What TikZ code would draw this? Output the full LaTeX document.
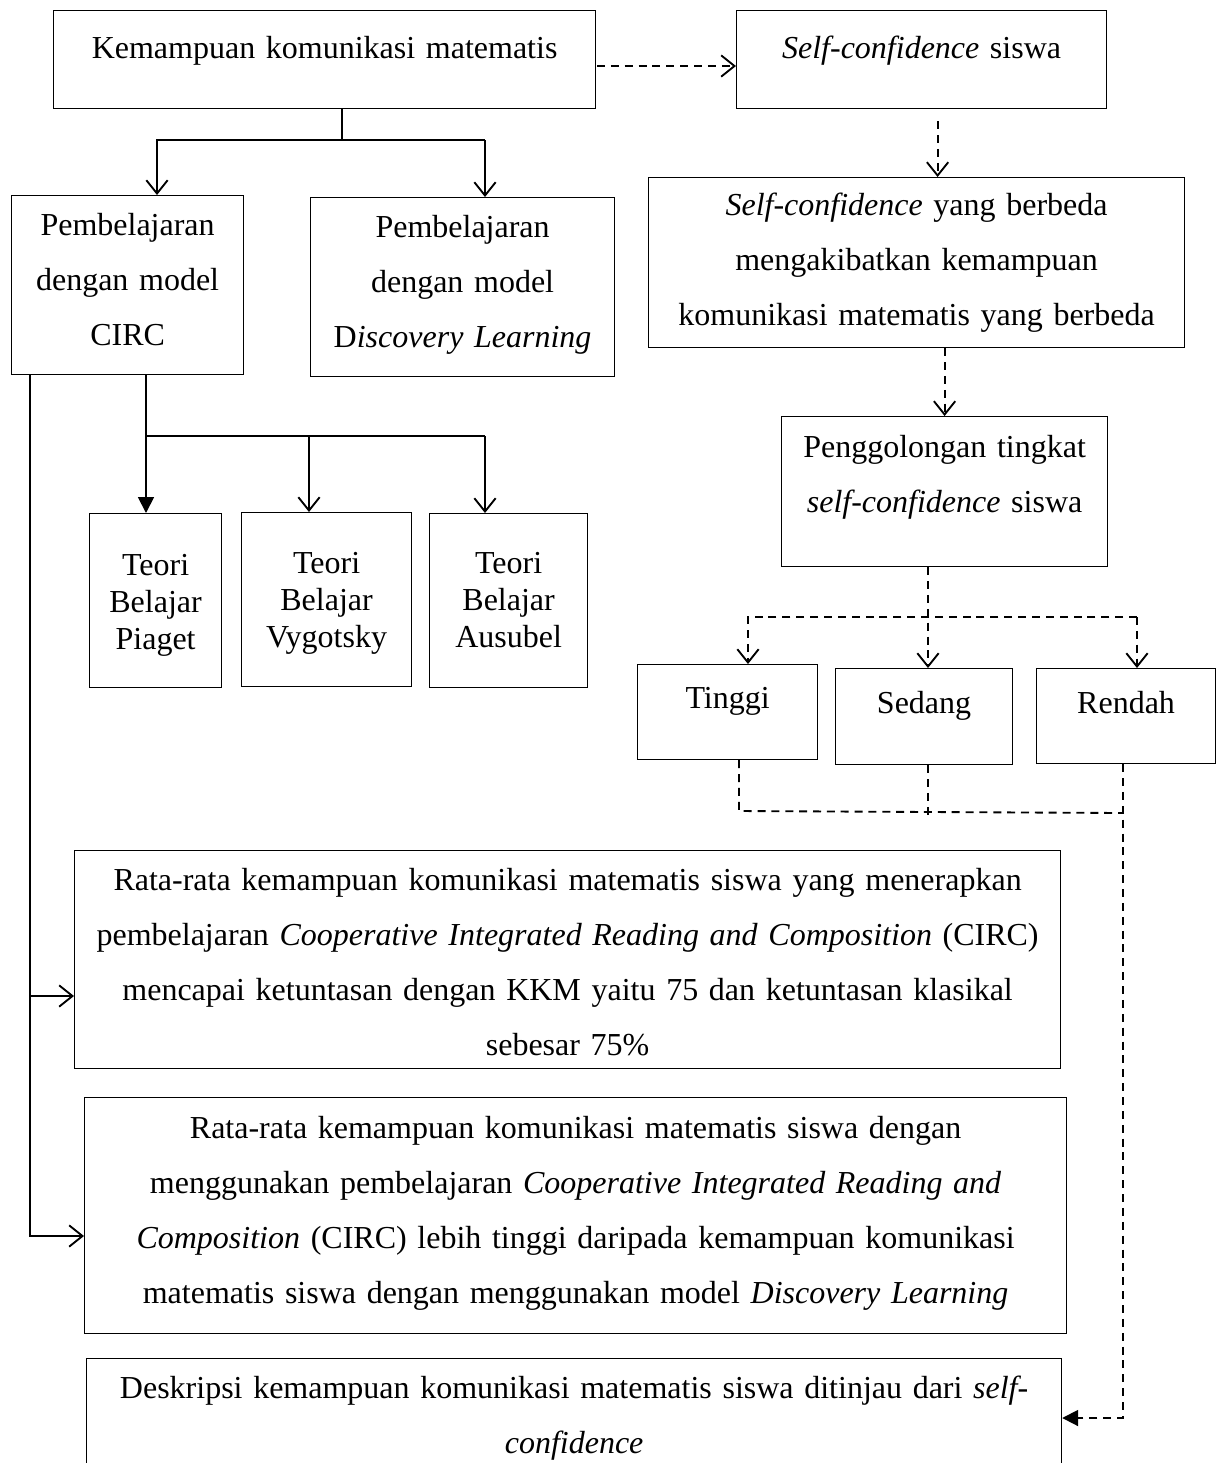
\documentclass[tikz,border=0pt]{standalone}
\usepackage{fontspec}
\setmainfont{Liberation Serif}
\usetikzlibrary{arrows.meta}
\tikzset{box/.style={draw,line width=0.45pt,inner sep=0pt,align=center,anchor=north west,font=\fontsize{12}{20.6}\selectfont}}
\tikzset{teori/.style={box,font=\fontsize{12}{13.8}\selectfont}}
\tikzset{conn/.style={line width=0.7pt}}
\tikzset{dconn/.style={line width=0.7pt,dash pattern=on 3pt off 2.2pt}}

\begin{document}
\begin{tikzpicture}[x=0.375pt,y=-0.375pt,>={Straight Barb[length=5pt,width=8pt]}]
    \useasboundingbox (0,0) rectangle (1216,1463);

    % boxes
    \node[box,text width=203.25pt,text height=18pt,text depth=18.75pt] (km) at (53,10) {Kemampuan komunikasi matematis};
    \node[box,text width=138.75pt,text height=18pt,text depth=18.75pt] (sc) at (736,10) {\textit{Self-confidence} siswa};
    \node[box,text width=87pt,text height=15pt,text depth=52.125pt] (pcirc) at (11,195) {Pembelajaran\\dengan model\\CIRC};
    \node[box,text width=114pt,text height=15pt,text depth=52.125pt] (pdl) at (310,197) {Pembelajaran\\dengan model\\D\textit{iscovery Learning}};
    \node[box,text width=201pt,text height=14.25pt,text depth=49.5pt] (scb) at (648,177) {\textit{Self-confidence} yang berbeda\\mengakibatkan kemampuan\\komunikasi matematis yang berbeda};
    \node[box,text width=122.25pt,text height=15.375pt,text depth=40.875pt] (pt) at (781,416) {Penggolongan tingkat\\\textit{self-confidence} siswa};
    \node[teori,text width=49.5pt,text height=23.25pt,text depth=42pt] (piaget) at (89,513) {Teori\\Belajar\\Piaget};
    \node[teori,text width=63.75pt,text height=22.875pt,text depth=42.375pt] (vygotsky) at (241,512) {Teori\\Belajar\\Vygotsky};
    \node[teori,text width=59.25pt,text height=22.5pt,text depth=42.75pt] (ausubel) at (429,513) {Teori\\Belajar\\Ausubel};
    \node[box,text width=67.5pt,text height=16.5pt,text depth=19.125pt] (tinggi) at (637,664) {Tinggi};
    \node[box,text width=66.375pt,text height=16.875pt,text depth=19.125pt] (sedang) at (835,668) {Sedang};
    \node[box,text width=67.125pt,text height=16.875pt,text depth=18.75pt] (rendah) at (1036,668) {Rendah};
    \node[box,text width=369.75pt,text height=15pt,text depth=66.75pt] (r1) at (74,850) {Rata-rata kemampuan komunikasi matematis siswa yang menerapkan\\pembelajaran \textit{Cooperative Integrated Reading and Composition} (CIRC)\\mencapai ketuntasan dengan KKM yaitu 75 dan ketuntasan klasikal\\sebesar 75\%};
    \node[box,text width=368.25pt,text height=15.375pt,text depth=73.125pt] (r2) at (84,1097) {Rata-rata kemampuan komunikasi matematis siswa dengan\\menggunakan pembelajaran \textit{Cooperative Integrated Reading and}\\\textit{Composition} (CIRC) lebih tinggi daripada kemampuan komunikasi\\matematis siswa dengan menggunakan model \textit{Discovery Learning}};
    \node[box,text width=365.625pt,text height=15pt,text depth=30.75pt] (d) at (86,1358) {Deskripsi kemampuan komunikasi matematis siswa ditinjau dari \textit{self-}\\\textit{confidence}};

    % solid connectors
    \coordinate (kmj) at (342,140);
    \coordinate (kml) at (157,140);
    \coordinate (kmr) at (485,140);
    \draw[conn] (kmj |- km.south) -- (kmj);
    \draw[conn,->] (kmr) -- (kml) -- (kml |- pcirc.north);
    \draw[conn,->] (kmr) -- (kmr |- pdl.north);

    \coordinate (pj) at (146,436);
    \coordinate (pv) at (309,436);
    \coordinate (pr) at (485,436);
    \draw[conn,-{Triangle[length=6pt,width=6pt]}] (pj |- pcirc.south) -- (pj |- piaget.north);
    \draw[conn] (pj) -- (pr);
    \draw[conn,->] (pv) -- (pv |- vygotsky.north);
    \draw[conn,->] (pr) -- (pr |- ausubel.north);

    \coordinate (lj) at (30,996);
    \coordinate (lb) at (30,1236);
    \draw[conn,->] (lj |- pcirc.south) -- (lb) -- (lb -| r2.west);
    \draw[conn,->] (lj) -- (lj -| r1.west);

    % dashed connectors
    \coordinate (kmsc) at (597,66);
    \draw[dconn,->] (kmsc) -- (kmsc -| sc.west);
    \draw[dconn,->] ([xshift=6pt,yshift=-4.5pt]sc.south) -- ([xshift=6pt]sc.south |- scb.north);
    \draw[dconn,->] (pt.north |- scb.south) -- (pt.north);

    \coordinate (ptj) at (928,617);
    \coordinate (ptl) at (748,617);
    \coordinate (ptr) at (1137,617);
    \draw[dconn,->] (ptj |- pt.south) -- (ptj |- sedang.north);
    \draw[dconn,->] (ptr) -- (ptl) -- (ptl |- tinggi.north);
    \draw[dconn,->] (ptr) -- (ptr |- rendah.north);

    \coordinate (tj) at (739,811);
    \coordinate (sj) at (928,815);
    \coordinate (rj) at (1123,813);
    \coordinate (dj) at (1123,1418);
    \draw[dconn] (tj |- tinggi.south) -- (tj) -- (rj);
    \draw[dconn] (sj |- sedang.south) -- (sj);
    \draw[dconn,-{Triangle[length=6pt,width=6pt]}] (rj |- rendah.south) -- (dj) -- (dj -| d.east);
\end{tikzpicture}
\end{document}
